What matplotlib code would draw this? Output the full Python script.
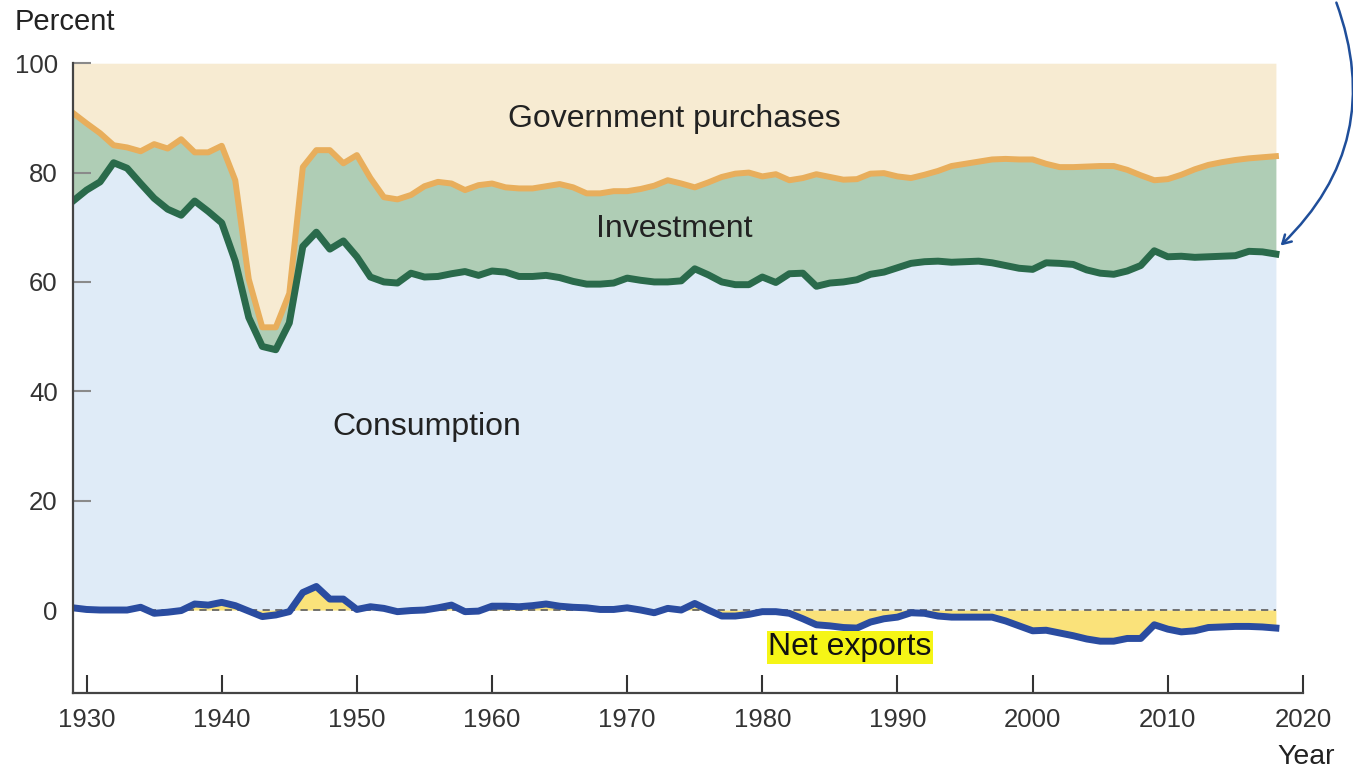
import matplotlib
matplotlib.use("Agg")
import matplotlib.pyplot as plt
import numpy as np

plt.rcParams['font.family'] = ['Liberation Sans', 'DejaVu Sans']

# 年份 1929-2018
years = np.arange(1929, 2019)

# 橙线：消费+投资+净出口 的上沿（100 - 政府购买）
invest_top = [90.9, 89.0, 87.2, 85.0, 84.6, 83.9, 85.2, 84.4, 86.1, 83.7,
              83.7, 84.9, 78.6, 60.5, 51.7, 51.7, 57.9, 81.0, 84.1, 84.1,
              81.7, 83.2, 79.0, 75.5, 75.1, 75.9, 77.5, 78.3, 78.0, 76.8,
              77.7, 78.0, 77.3, 77.1, 77.1, 77.5, 77.9, 77.3, 76.2, 76.2,
              76.6, 76.6, 77.0, 77.6, 78.6, 78.0, 77.3, 78.2, 79.2, 79.8,
              80.0, 79.3, 79.7, 78.6, 79.0, 79.7, 79.2, 78.7, 78.8, 79.8,
              79.9, 79.3, 79.0, 79.6, 80.3, 81.2, 81.6, 82.0, 82.4, 82.5,
              82.4, 82.4, 81.6, 81.0, 81.0, 81.1, 81.2, 81.2, 80.5, 79.5,
              78.6, 78.8, 79.6, 80.6, 81.4, 81.9, 82.3, 82.6, 82.8, 83.0]

# 深绿线：消费的上沿
cons_top = [74.8, 76.8, 78.3, 81.8, 80.8, 78.0, 75.3, 73.3, 72.2, 74.8,
            72.9, 70.8, 63.8, 53.5, 48.2, 47.6, 52.5, 66.5, 69.1, 66.0,
            67.5, 64.6, 60.9, 60.0, 59.8, 61.6, 60.9, 61.0, 61.5, 61.9,
            61.2, 62.0, 61.8, 61.0, 61.0, 61.2, 60.8, 60.1, 59.6, 59.6,
            59.8, 60.7, 60.3, 60.0, 60.0, 60.2, 62.4, 61.3, 60.0, 59.5,
            59.5, 60.9, 59.9, 61.5, 61.6, 59.2, 59.8, 60.0, 60.4, 61.4,
            61.8, 62.6, 63.4, 63.7, 63.8, 63.6, 63.7, 63.8, 63.5, 63.0,
            62.5, 62.3, 63.5, 63.4, 63.2, 62.2, 61.6, 61.4, 62.0, 63.0,
            65.7, 64.6, 64.7, 64.5, 64.6, 64.7, 64.8, 65.6, 65.5, 65.1]

# 蓝线：净出口
net_exports = [0.4, 0.1, 0.0, 0.0, 0.0, 0.5, -0.6, -0.4, -0.1, 1.1,
               0.9, 1.4, 0.8, -0.2, -1.2, -0.9, -0.3, 3.2, 4.3, 2.0,
               2.0, 0.1, 0.6, 0.3, -0.3, -0.1, 0.0, 0.4, 0.9, -0.3,
               -0.2, 0.7, 0.7, 0.6, 0.8, 1.1, 0.7, 0.5, 0.4, 0.1,
               0.1, 0.4, 0.0, -0.5, 0.3, 0.0, 1.2, 0.0, -1.1, -1.1,
               -0.8, -0.3, -0.3, -0.6, -1.6, -2.7, -2.9, -3.2, -3.3, -2.2,
               -1.6, -1.3, -0.5, -0.6, -1.1, -1.3, -1.3, -1.3, -1.3, -2.0,
               -2.9, -3.8, -3.7, -4.2, -4.7, -5.3, -5.7, -5.7, -5.2, -5.2,
               -2.7, -3.5, -4.0, -3.8, -3.2, -3.1, -3.0, -3.0, -3.1, -3.3]

x_ticks = list(range(1930, 2021, 10))
y_ticks = [0, 20, 40, 60, 80, 100]

inv = np.array(invest_top)
con = np.array(cons_top)
nx = np.array(net_exports)

fig = plt.figure(figsize=(13.53, 7.71), dpi=100)
ax = fig.add_axes([0.054, 0.101, 0.909, 0.817])

# 填充区域
ax.fill_between(years, inv, 100, color='#F7EBD2', lw=0, zorder=1)
ax.fill_between(years, con, inv, color='#AFCDB5', lw=0, zorder=1)
ax.fill_between(years, np.maximum(nx, 0), con, color='#DFEBF7', lw=0, zorder=1)
ax.fill_between(years, 0, nx, color='#FAE27A', lw=0, zorder=1)

# 零线
ax.plot([years[0], years[-1]], [0, 0], ls=(0, (4, 3)), color='#666666', lw=1.3, zorder=2)

# 三条曲线
ax.plot(years, inv, color='#E8AE5C', lw=4.3, solid_joinstyle='round', zorder=3)
ax.plot(years, con, color='#2A6A4B', lw=5, solid_joinstyle='round', zorder=4)
ax.plot(years, nx, color='#2A4CA0', lw=5, solid_joinstyle='round', zorder=4)

# 坐标轴
ax.set_xlim(1929, 2020)
ax.set_ylim(-15.2, 100)
ax.set_xticks(x_ticks)
ax.set_yticks(y_ticks)
ax.tick_params(axis='x', direction='in', length=13, width=1.5, color='#333333',
               labelsize=18.5, labelcolor='#333333', pad=11)
ax.tick_params(axis='y', direction='in', length=13, width=1.5, color='#8a8a8a',
               labelsize=18.5, labelcolor='#333333', pad=11)
for s in ['top', 'right']:
    ax.spines[s].set_visible(False)
for s in ['left', 'bottom']:
    ax.spines[s].set_color('#444444')
    ax.spines[s].set_linewidth(1.6)
    ax.spines[s].set_zorder(5)

# 文字
fig.text(0.011, 0.972, 'Percent', fontsize=21, color='#222222', va='center', ha='left')
fig.text(0.987, 0.018, 'Year', fontsize=20.5, color='#222222', va='center', ha='right')
ax.text(1973.5, 89.8, 'Government purchases', fontsize=23, color='#222222', ha='center', va='center', zorder=6)
ax.text(1973.5, 69.7, 'Investment', fontsize=23, color='#222222', ha='center', va='center', zorder=6)
ax.text(1955.2, 33.5, 'Consumption', fontsize=23, color='#222222', ha='center', va='center', zorder=6)
ax.text(1986.5, -6.8, 'Net exports', fontsize=23, color='#111111', ha='center', va='center', zorder=6,
        bbox=dict(boxstyle='square,pad=0.05', facecolor='#F5F516', edgecolor='none'))

# 手绘箭头
ax.annotate('', xy=(2018.2, 66.3), xycoords='data',
            xytext=(0.987, 1.0), textcoords='figure fraction',
            arrowprops=dict(arrowstyle='->,head_length=0.6,head_width=0.35',
                            connectionstyle='arc3,rad=-0.33',
                            color='#1F4E9A', lw=1.8),
            annotation_clip=False, zorder=7)

fig.savefig('out.png', dpi=100)
